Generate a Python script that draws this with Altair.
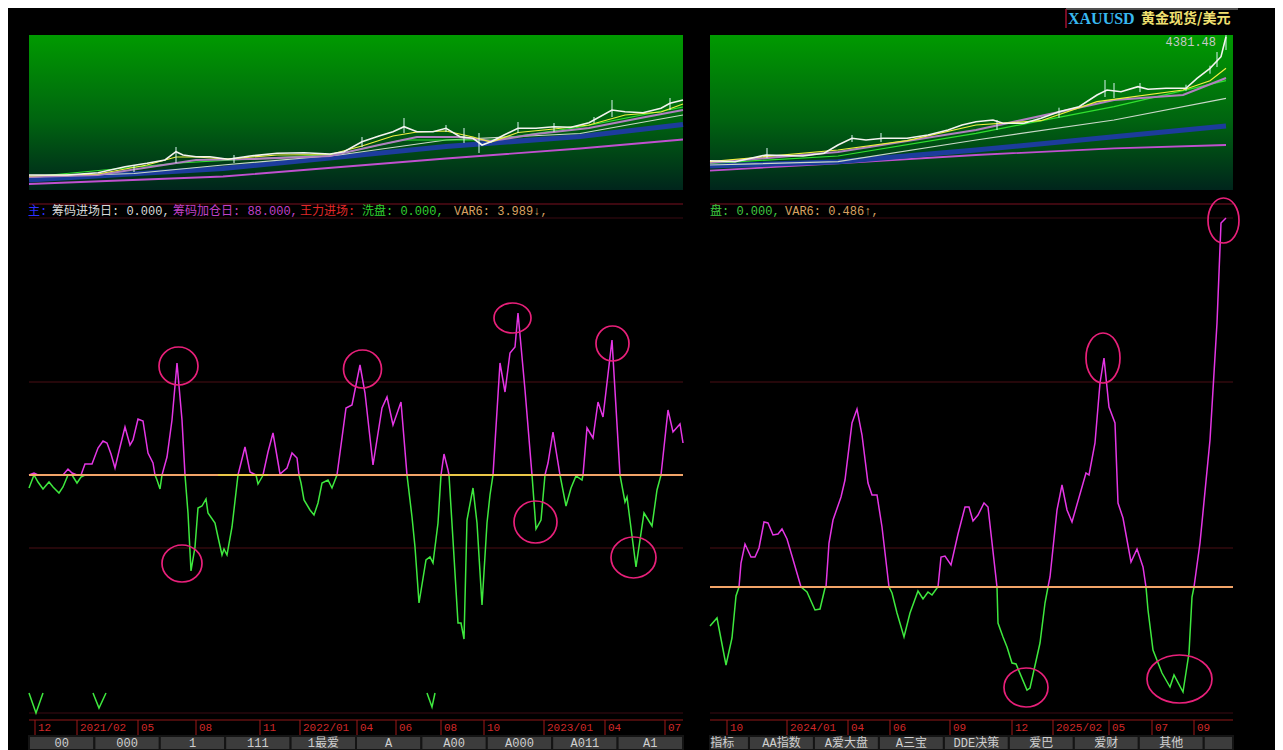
import altair as alt
import pandas as pd

# ---------------- data (x = bar number counted from each panel's left edge) ----------------
# Left panel: 2020/12 .. 2023/07
L_PRICE = [(0,1730),(38,1730),(69,1734.6),(96,1746.6),(118,1753.4),(136,1760),(147,1776.6),(154,1770),
           (167,1766.6),(181,1766.6),(199,1761.4),(221,1768),(248,1773.4),(275,1774.6),(301,1772),
           (315,1776.6),(333,1796.6),(350,1808),(364,1816.6),(375,1826.6),(388,1816.6),(404,1816.6),
           (417,1823.4),(431,1806.6),(444,1803.4),(453,1790),(462,1796.6),(475,1810),(489,1823.4),
           (507,1823.4),(525,1826.6),(542,1825.4),(560,1834.6),(583,1860),(596,1856.6),(614,1854.6),
           (632,1863.4),(641,1873.4),(654,1880)]
L_WICK = [(105,1736,1750),(147,1754,1786),(205,1754,1770),(333,1786,1806),(375,1814,1844),
          (417,1816,1830),(435,1794,1824),(450,1774,1814),(489,1814,1836),(525,1816,1834),
          (565,1834,1846),(583,1846,1880),(641,1860,1884)]
L_MA_YELLOW = [(0,1728),(69,1732),(118,1750),(147,1766),(167,1766),(199,1762),(248,1770),(301,1771),
               (333,1788),(364,1808),(388,1816),(417,1818),(444,1806),(462,1796),(489,1815),(525,1822),
               (560,1830),(596,1850),(632,1856),(654,1872)]
L_MA_PINK = [(0,1726),(69,1730),(118,1745),(167,1760),(221,1762),(301,1768),(350,1790),(388,1806),
             (431,1806),(462,1798),(507,1812),(560,1824),(614,1845),(654,1860)]
L_MA_GREEN = [(0,1726),(150,1754),(310,1772),(373,1800),(462,1800),(551,1826),(654,1866)]
L_MA_GRAY = [(0,1726),(105,1733),(194,1750),(310,1770),(417,1800),(551,1813),(654,1850)]
L_MA_BLUE = [(0,1720),(194,1743),(417,1787),(551,1807),(654,1831)]
L_MA_PURPLE = [(0,1712),(194,1727),(417,1763),(551,1783),(654,1801)]

L_OSC = [(0,-1.3),(5,0.2),(9,-0.7),(14,-1.4),(20,-0.7),(24,-1.2),(30,-1.8),(34,-1.2),(39,0.6),(43,0.2),
         (48,-0.8),(52,-0.2),(56,1.1),(63,1.1),(69,2.7),(74,3.4),(78,3.2),(82,2.1),(86,0.7),(91,2.8),
         (96,4.8),(101,3.0),(104,3.5),(109,5.6),(114,5.4),(119,2.2),(124,1.2),(126,0),(128,-0.5),
         (131,-1.4),(133,0),(138,1.8),(143,5.5),(148,11.2),(153,5.5),(156,0),(159,-3.8),(162,-9.6),
         (166,-7.2),(169,-3.3),(173,-3.1),(177,-2.4),(179,-3.8),(186,-4.8),(189,-6.2),(193,-8.0),
         (195,-7.4),(198,-8.0),(203,-5.2),(209,0),(216,2.8),(221,0.3),(225,0.1),(227,0),(229,-0.9),
         (233,-0.2),(234,0),(239,2.3),(244,4.2),(251,0.1),(258,0.7),(263,2.2),(268,1.7),(270,0),
         (272,-0.8),(275,-2.5),(281,-3.5),(285,-4.0),(289,-2.8),(293,-0.8),(299,-0.5),(303,-1.3),
         (308,0),(317,6.7),(323,7.0),(331,11.0),(336,8.2),(344,1.0),(353,6.7),(358,7.8),(364,5.0),
         (372,7.3),(378,0),(383,-4.2),(386,-7.2),(390,-12.8),(397,-8.5),(401,-8.2),(404,-8.8),
         (409,-4.8),(412,0),(415,2.1),(419,0.5),(420,0),(424,-6.5),(429,-14.8),(432,-14.8),(435,-16.4),
         (438,-4.5),(444,-1.3),(448,-4.8),(453,-13.0),(458,-4.8),(461,-2.0),(464,0),(471,11.2),
         (476,8.3),(481,12.2),(486,12.8),(489,16.2),(496,8.5),(503,0),(507,-5.4),(512,-4.5),(516,0),
         (519,1.2),(524,4.3),(531,0),(537,-3.1),(542,-1.3),(547,-0.1),(553,-0.5),(554,0),(558,4.7),
         (564,3.7),(569,7.3),(574,5.8),(583,13.5),(591,0),(596,-2.7),(598,-2.2),(607,-9.2),(615,-3.8),
         (623,-5.1),(628,-1.5),(632,0),(639,6.5),(644,4.3),(651,5.1),(654,3.2)]
L_GRID = [9.3, -7.3]
L_FLAT = [(189, 239), (421, 504)]           # yellow stretches lying on the zero line
L_VMARK = [(1,0,-21.8),(1,7,-23.8),(1,14,-21.8),(2,64,-21.8),(2,70,-23.3),(2,77,-21.8),
           (3,398,-21.8),(3,403,-23.2),(3,406,-21.8)]
L_CIRCLES = [(149.5,10.9),(153,-8.85),(333.5,10.6),(483.5,15.7),(506.5,-4.7),(583.5,13.15),(604.5,-8.25)]
L_DATE_BAR = [6,48,109,167,231,271,328,367,412,455,515,576,636]
L_DATE_LABEL = ["12","2021/02","05","08","11","2022/01","04","06","08","10","2023/01","04","07"]
L_TABS = ["00","000","1","111","1最爱","A","A00","A000","A011","A1"]

# Right panel: 2023/10 .. 2025/10
R_PRICE = [(0,1900),(25,1880),(56,2014),(93,1994),(114,2048),(128,2214),(142,2348),(156,2314),
           (173,2348),(197,2348),(218,2414),(238,2514),(252,2614),(266,2680),(283,2714),(293,2648),
           (314,2648),(331,2748),(349,2880),(369,2980),(387,3214),(397,3314),(411,3280),(428,3380),
           (438,3328),(456,3348),(476,3348),(487,3548),(500,3748),(511,3980),(516,4380)]
R_WICK = [(57,1954,2154),(142,2274,2414),(171,2274,2454),(287,2514,2714),(349,2760,2960),
          (395,3174,3514),(404,3154,3454),(430,3274,3454),(476,3300,3420),(500,3640,3800),
          (507,3774,4074),(516,4114,4414)]
R_MA_YELLOW = [(0,1880),(128,2114),(197,2300),(266,2614),(331,2700),(387,3080),(473,3314),(500,3500),(516,3748)]
R_MA_PINK = [(0,1860),(128,2074),(266,2514),(404,3114),(473,3214),(516,3554)]
R_MA_GREEN = [(0,1848),(128,1994),(266,2448),(404,2980),(516,3500)]
R_MA_GRAY = [(0,1814),(128,1880),(266,2314),(404,2714),(516,3148)]
R_MA_BLUE = [(0,1794),(128,1880),(266,2114),(404,2380),(516,2594)]
R_MA_PURPLE = [(0,1700),(128,1848),(266,2014),(404,2148),(516,2214)]
R_LAST = [(516, 4380, "4381.48")]

R_OSC = [(0,-3.9),(7,-3.1),(16,-7.8),(22,-5.1),(26,-0.9),(29,0),(31,2.4),(35,4.3),(41,3.0),(45,3.0),
         (49,3.9),(54,6.5),(58,6.4),(63,5.2),(68,5.3),(72,5.8),(77,4.8),(82,3.1),(91,0),(97,-0.5),
         (105,-2.3),(110,-2.2),(115,-0.1),(116,0),(119,4.4),(123,6.7),(131,9.0),(135,10.7),(142,16.4),
         (147,17.8),(152,15.2),(158,10.4),(162,9.2),(167,9.2),(172,6.0),(179,0),(182,-0.6),(187,-2.6),
         (194,-5.0),(200,-2.6),(208,-0.4),(213,-1.2),(218,-0.5),(222,-0.8),(227,-0.1),(228,0),(231,3.0),
         (235,3.1),(241,2.2),(248,5.3),(255,8.0),(259,8.0),(263,6.6),(268,7.2),(274,8.4),(278,8.0),
         (287,0),(288,-3.6),(293,-5.0),(297,-6.0),(302,-7.6),(306,-7.7),(317,-10.3),(320,-10.1),
         (330,-5.6),(335,-1.6),(338,0),(340,1.0),(347,7.7),(352,10.2),(357,7.7),(362,6.5),(376,11.4),
         (379,11.2),(385,14.4),(390,20.4),(394,22.9),(399,18.0),(405,16.4),(408,8.4),(413,6.9),
         (421,2.5),(427,3.8),(433,2.0),(436,0),(438,-2.3),(443,-6.3),(452,-8.6),(460,-10.0),(464,-8.8),
         (473,-10.5),(479,-6.6),(482,-1.0),(484,0),(490,4.4),(500,14.7),(507,26.4),(511,36.4),(516,36.9)]
R_GRID = [20.5, 3.9]
R_CIRCLES = [(393,22.9),(316,-10.05),(469.5,-9.2),(513.5,36.65)]
R_DATE_BAR = [17,77,138,180,240,302,343,399,442,484]
R_DATE_LABEL = ["10","2024/01","04","06","09","12","2025/02","05","07","09"]
R_TABS = ["指标","AA指数","A爱大盘","A三宝","DDE决策","爱巴","爱财","其他",""]

# ---------------- styles / layout ----------------
L_CIRCLE_WH = [(39,38),(40,37),(38,38),(37,30),(43,42),(33,35),(45,41)]
R_CIRCLE_WH = [(34,50),(44,39),(65,48),(31,45)]

MONO = "Liberation Mono, Noto Sans CJK SC"
CJK = "Noto Sans CJK SC"
W, H = 1267, 742
LX0, LX1, RX0, RX1 = 21, 675, 702, 1225
P_TOP, P_BOT = 27, 182
O_TOP, O_BOT = 196, 710


def S(domain, rng, clamp=False):
    return alt.Scale(domain=domain, range=rng, nice=False, zero=False, clamp=clamp)


XL = S([0, 654], [LX0, LX1])
XR = S([0, 523], [RX0, RX1])
YPL = S([1700, 2010], [P_BOT, P_TOP])
YPR = S([1314, 4414], [P_BOT, P_TOP])
YOL = S([-24.3, 27.1], [O_BOT, O_TOP])
YOR = S([-13.1, 38.3], [O_BOT, O_TOP])
TL = S([0, 10], [LX0, LX1])
TR = S([0.4, 8.45], [RX0, RX1], clamp=True)

ONE = pd.DataFrame({"a": [0]})
layers = []


def xy(df, xs, ys, xf="bar", yf="v"):
    return alt.Chart(df).encode(x=alt.X(f"{xf}:Q", scale=xs, axis=None),
                                y=alt.Y(f"{yf}:Q", scale=ys, axis=None))


def line(pairs, xs, ys, color, width=1.0, opacity=1.0):
    df = pd.DataFrame(pairs, columns=["bar", "v"])
    layers.append(xy(df, xs, ys).mark_line(color=color, strokeWidth=width, opacity=opacity))


def hrule(x0, x1, y, color, width=1.0):
    layers.append(alt.Chart(ONE).mark_rule(color=color, strokeWidth=width).encode(
        x=alt.value(x0), x2=alt.value(x1), y=alt.value(y)))


grad = alt.Gradient(gradient="linear", x1=0, y1=0, x2=0, y2=1,
                    stops=[alt.GradientStop(color="#009a00", offset=0),
                           alt.GradientStop(color="#006410", offset=0.55),
                           alt.GradientStop(color="#00251c", offset=1)])

# price panels
for x0, x1 in [(LX0, LX1), (RX0, RX1)]:
    layers.append(alt.Chart(ONE).mark_rect(fill=grad).encode(
        x=alt.value(x0), x2=alt.value(x1), y=alt.value(P_TOP), y2=alt.value(P_BOT)))

for xs, ys, mas, price, wick in [
    (XL, YPL, [L_MA_PURPLE, L_MA_BLUE, L_MA_GRAY, L_MA_GREEN, L_MA_PINK, L_MA_YELLOW], L_PRICE, L_WICK),
    (XR, YPR, [R_MA_PURPLE, R_MA_BLUE, R_MA_GRAY, R_MA_GREEN, R_MA_PINK, R_MA_YELLOW], R_PRICE, R_WICK),
]:
    styles = [("#c050d0", 1.8), ("#1c3c9c", 5), ("#c8d8c8", 1.2), ("#30e030", 1.2),
              ("#b080c0", 2.2), ("#f0f040", 1.2)]
    for ma, (c, w) in zip(mas, styles):
        line(ma, xs, ys, c, w)
    wdf = pd.DataFrame(wick, columns=["bar", "lo", "hi"])
    layers.append(alt.Chart(wdf).mark_rule(color="#d8f4f0", strokeWidth=1).encode(
        x=alt.X("bar:Q", scale=xs, axis=None), y=alt.Y("lo:Q", scale=ys, axis=None), y2="hi:Q"))
    line(price, xs, ys, "#f4f4f0", 1.6)

layers.append(xy(pd.DataFrame(R_LAST, columns=["bar", "v", "t"]), XR, YPR).mark_text(
    align="right", baseline="middle", dx=-10, dy=5, color="#c8c8c8", font=MONO, fontSize=12
).encode(text="t:N"))

# title box
hrule(1058, 1230, 1, "#505050", 2)
layers.append(alt.Chart(ONE).mark_rule(color="#a01030", strokeWidth=1.5).encode(
    x=alt.value(1058), y=alt.value(1), y2=alt.value(20)))
layers.append(alt.Chart(pd.DataFrame({"t": ["XAUUSD"]})).mark_text(
    align="left", baseline="middle", color="#38b8f0", font="Liberation Serif", fontSize=16,
    fontWeight="bold").encode(x=alt.value(1060), y=alt.value(11), text="t:N"))
layers.append(alt.Chart(pd.DataFrame({"t": ["黄金现货/美元"]})).mark_text(
    align="left", baseline="middle", color="#f0e070", font=CJK, fontSize=14, fontWeight="bold").encode(
    x=alt.value(1133), y=alt.value(11), text="t:N"))

# oscillator frames
for x0, x1 in [(LX0, LX1), (RX0, RX1)]:
    hrule(x0, x1, O_TOP, "#7a1020", 1.2)
    hrule(x0, x1, 210, "#3a0a12", 1)
    hrule(x0, x1, 705, "#3a0a12", 1)
    hrule(x0, x1, 712, "#901818", 1)

# legend texts
LEG_L = [("主:", "#3030ff", 20), ("筹码进场日: 0.000,", "#d8d8d8", 44),
         ("筹码加仓日: 88.000,", "#c040c8", 165), ("王力进场:", "#e02828", 292),
         ("洗盘: 0.000,", "#30d030", 354), ("VAR6: 3.989↓,", "#d8a060", 446)]
LEG_R = [("盘: 0.000,", "#40c840", 702), ("VAR6: 0.486↑,", "#d8a060", 777)]
for t, c, x in LEG_L + LEG_R:
    layers.append(alt.Chart(pd.DataFrame({"t": [t]})).mark_text(
        align="left", baseline="middle", color=c, font=MONO, fontSize=12).encode(
        x=alt.value(x), y=alt.value(203), text="t:N"))

# oscillator content
for xs, ys, osc, grid, circles, wh in [
    (XL, YOL, L_OSC, L_GRID, L_CIRCLES, L_CIRCLE_WH),
    (XR, YOR, R_OSC, R_GRID, R_CIRCLES, R_CIRCLE_WH),
]:
    x0, x1 = (LX0, LX1) if xs is XL else (RX0, RX1)
    gdf = pd.DataFrame({"v": grid})
    layers.append(alt.Chart(gdf).mark_rule(color="#4a0e14", strokeWidth=1).encode(
        x=alt.value(x0), x2=alt.value(x1), y=alt.Y("v:Q", scale=ys, axis=None)))
    odf = pd.DataFrame(osc, columns=["bar", "v"])
    layers.append(xy(odf, xs, ys, yf="n").transform_calculate(n="min(datum.v, 0)").mark_line(
        color="#3ee83e", strokeWidth=1.5))
    layers.append(xy(odf, xs, ys, yf="p").transform_calculate(p="max(datum.v, 0)").mark_line(
        color="#e436e4", strokeWidth=1.5))
    layers.append(alt.Chart(pd.DataFrame({"v": [0]})).mark_rule(color="#f2a468", strokeWidth=2).encode(
        x=alt.value(x0), x2=alt.value(x1), y=alt.Y("v:Q", scale=ys, axis=None)))
    rows = []
    for (b, v), (w, h) in zip(circles, wh):
        s = max(w, h)
        rx, ry = w / s, h / s
        path = f"M {-rx:.3f} 0 A {rx:.3f} {ry:.3f} 0 1 0 {rx:.3f} 0 A {rx:.3f} {ry:.3f} 0 1 0 {-rx:.3f} 0 Z"
        rows.append({"bar": b, "v": v, "shape": path, "size": s * s})
    cdf = pd.DataFrame(rows)
    layers.append(xy(cdf, xs, ys).mark_point(filled=False, strokeWidth=1.7, color="#e8207a",
                                             opacity=1).encode(
        shape=alt.Shape("shape:N", scale=None), size=alt.Size("size:Q", scale=None)))

# yellow flat stretches and V marks (left)
fdf = pd.DataFrame(L_FLAT, columns=["b0", "b1"]).assign(v=0)
layers.append(alt.Chart(fdf).mark_rule(color="#e8d040", strokeWidth=2, opacity=0.8).encode(
    x=alt.X("b0:Q", scale=XL, axis=None), x2="b1:Q", y=alt.Y("v:Q", scale=YOL, axis=None)))
vdf = pd.DataFrame(L_VMARK, columns=["g", "bar", "v"])
layers.append(xy(vdf, XL, YOL).mark_line(color="#3ee83e", strokeWidth=1.5).encode(detail="g:N"))

# date strips
for xs, bars, labels in [(XL, L_DATE_BAR, L_DATE_LABEL), (XR, R_DATE_BAR, R_DATE_LABEL)]:
    ddf = pd.DataFrame({"bar": bars, "t": labels})
    base = alt.Chart(ddf).encode(x=alt.X("bar:Q", scale=xs, axis=None))
    layers.append(base.mark_rule(color="#a01818", strokeWidth=1).encode(
        y=alt.value(712), y2=alt.value(727)))
    layers.append(base.mark_text(align="left", baseline="middle", dx=3, color="#d02828",
                                 font=MONO, fontSize=11).encode(y=alt.value(720), text="t:N"))

# tab bars
for ts, tabs, minc in [(TL, L_TABS, 0.5), (TR, R_TABS, 0.59)]:
    tdf = pd.DataFrame({"i": list(range(len(tabs))), "t": tabs})
    base = alt.Chart(tdf).transform_calculate(i2="datum.i + 1", c=f"max(datum.i + 0.5, {minc})")
    layers.append(base.mark_rect(fill="#3c3c3c", stroke="#141414", strokeWidth=2).encode(
        x=alt.X("i:Q", scale=ts, axis=None), x2="i2:Q", y=alt.value(728), y2=alt.value(742)))
    layers.append(base.mark_text(align="center", baseline="middle", color="#cfcfcf",
                                 font=MONO, fontSize=12).encode(
        x=alt.X("c:Q", scale=ts, axis=None), y=alt.value(735), text="t:N"))

chart = alt.layer(*layers).resolve_scale(x="independent", y="independent").properties(
    width=W, height=H, background="black", padding=0
).configure_view(stroke=None)

chart.save("out.html", embed_options={"renderer": "svg", "actions": False})
